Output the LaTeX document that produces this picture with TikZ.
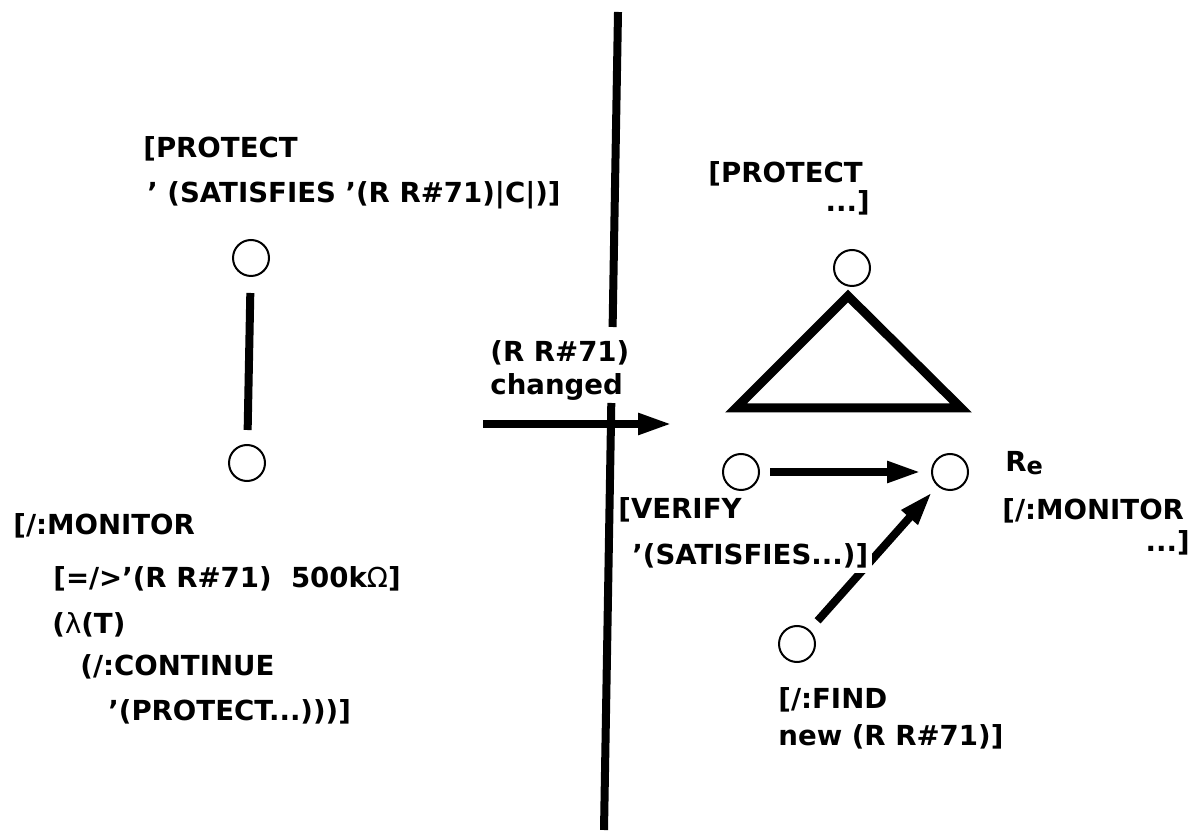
\documentclass[tikz,border=0pt]{standalone}
\usepackage{fontspec}
\setmainfont{DejaVu Sans}
\usetikzlibrary{arrows.meta}
\begin{document}
\begin{tikzpicture}
      [x=0.5pt,y=-0.5pt,
      every node/.style={font=\bfseries\fontsize{13.8}{17}\selectfont, inner sep=0pt},
      state/.style={draw, circle, minimum size=18pt, line width=1pt},
      txt/.style={anchor=base west},
      txtr/.style={anchor=base east},
      bar/.style={line width=4pt},
      flow/.style={line width=4pt, -{Triangle[length=17pt,width=10pt]}}]
      \useasboundingbox (0,0) rectangle (1198,838);
      % divider
      \draw[bar] (618,12) -- (612.6,327);
      \draw[bar] (611.3,403) -- (604,830);
      % left side
      \node[txt] (protL1) at (143,158) {[PROTECT};
      \node[txt] (protL2) at (147,203) {’ (SATISFIES ’(R R\#71)|C|)]};
      \node[state] (protL) at (251,258) {};
      \node[state] (monL) at (247,463) {};
      \draw[bar, shorten <=8pt, shorten >=7pt] (protL) -- (monL);
      \node[txt] (monL1) at (13,535) {[/:MONITOR};
      \node[txt] (monL2) at (53,588) {[=/>’(R R\#71)\hspace{0.7em}500k{\mdseries Ω}]};
      \node[txt] (monL3) at (52,633) {({\mdseries λ}(T)};
      \node[txt] (monL4) at (80,675) {(/:CONTINUE};
      \node[txt] (monL5) at (108,720) {’(PROTECT...)))]};
      % change
      \coordinate (chgA) at (483,424);
      \coordinate (chgB) at (672,424);
      \draw[flow] (chgA) -- (chgB);
      \node[txt] (chg1) at (490,362) {(R R\#71)};
      \node[txt] (chg2) at (490,395) {changed};
      % right side
      \node[txt] (protR1) at (708,183) {[PROTECT};
      \node[txtr] (protR2) at (870,212) {...]};
      \node[state] (protR) at (852,268) {};
      \draw[line width=4.5pt] (848,296) -- (961,408) -- (736,408) -- cycle;
      \node[state] (ver) at (741,472) {};
      \node[state] (mon) at (950,472) {};
      \node[state] (find) at (797,644) {};
      \draw[flow, shorten <=5pt, shorten >=5pt] (ver) -- (mon);
      \draw[flow, shorten <=6pt, shorten >=4pt] (find) -- (mon);
      \node[txt] (ver1) at (618,519) {[VERIFY};
      \node[txt, fill=white, inner sep=2pt] (ver2) at (628,565) {’(SATISFIES...)]};
      \node[txt] (mon1) at (1005,472) {R\raisebox{-1.5pt}{\fontsize{12}{13}\selectfont e}};
      \node[txt] (mon2) at (1002,520) {[/:MONITOR};
      \node[txtr] (mon3) at (1190,552) {...]};
      \node[txt] (find1) at (778,708) {[/:FIND};
      \node[txt] (find2) at (778,745) {new (R R\#71)]};
\end{tikzpicture}
\end{document}
